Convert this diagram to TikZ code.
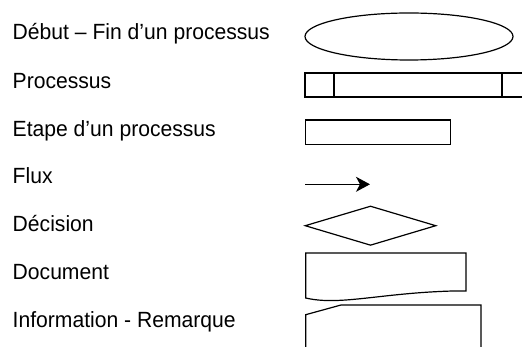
\documentclass[tikz,border=0pt]{standalone}
\usepackage{fontspec}
\setmainfont[FakeStretch=0.96]{Liberation Sans}
\usetikzlibrary{shapes.geometric,arrows.meta}
\begin{document}
\begin{tikzpicture}[x=1pt,y=-1pt,
  lbl/.style={anchor=base west,inner sep=0pt,font=\fontsize{22}{25}\selectfont},
  shp/.style={draw=black,line width=1.2pt,inner sep=0pt},
  flow/.style={line width=1.2pt,-{Stealth[length=14pt,width=15pt,inset=4pt]}}]
\useasboundingbox (0,0) rectangle (522,347);
% labels
\node[lbl] (t1) at (12.5,40) {Début – Fin d’un processus};
\node[lbl] (t2) at (12.5,88.5) {Processus};
\node[lbl] (t3) at (12.5,136.5) {Etape d’un processus};
\node[lbl] (t4) at (12.5,184) {Flux};
\node[lbl] (t5) at (12.5,232) {Décision};
\node[lbl] (t6) at (12.5,280) {Document};
\node[lbl] (t7) at (12.5,327.5) {Information - Remarque};
% shapes
\node[shp,ellipse,minimum width=208pt,minimum height=47pt] (start) at (409,36.5) {};
\node[shp,rectangle,minimum width=225pt,minimum height=24pt] (proc) at (417.5,85) {};
\draw[line width=1.2pt] (334,73) -- (334,97) (502,73) -- (502,97);
\node[shp,rectangle,minimum width=144.5pt,minimum height=24.3pt] (etape) at (378,132.2) {};
\coordinate (fa) at (305,184.3);
\coordinate (fb) at (370,184.3);
\draw[flow] (fa) -- (fb);
\node[shp,diamond,minimum width=131pt,minimum height=39.4pt] (dec) at (370.5,225.7) {};
\draw[line width=1.2pt,line join=miter] (305.7,298) -- (305.7,253) -- (466,253) -- (466,291) -- (453,291)
  .. controls (380,293) and (340,306) .. (305.7,298) -- cycle;
\draw[line width=1.2pt] (305.7,352) -- (305.7,314.7) -- (341,305) -- (481,305) -- (481,352);
\end{tikzpicture}
\end{document}
